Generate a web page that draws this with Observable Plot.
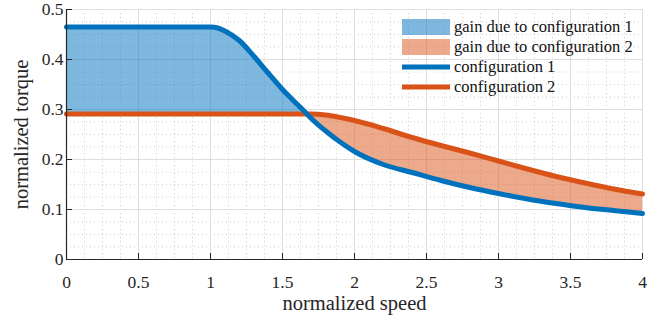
<!DOCTYPE html>
<html><head><meta charset="utf-8">
<script src="https://cdn.jsdelivr.net/npm/d3@7"></script>
<script src="https://cdn.jsdelivr.net/npm/@observablehq/plot@0.6"></script>
<style>
body{margin:0;background:#fff;}
#wrap{position:relative;width:663px;height:322px;font-family:"Liberation Serif","Times New Roman",serif;}
#chart svg, #chart svg text, #chart svg g{font-family:"Liberation Serif","Times New Roman",serif !important;}
#chart svg g[aria-label="x-axis tick label"], #chart svg g[aria-label="y-axis tick label"]{font-size:17.5px !important;font-variant:normal !important;}
#legend{position:absolute;left:402px;top:17px;font-size:16.5px;color:#111;}
.item{display:flex;align-items:center;height:20px;}
.sw{width:48px;margin-right:4px;}
</style></head><body>
<div id="wrap"><div id="chart"></div><div id="legend"></div></div>
<script>
const speed   = [0, 0.5, 1.0, 1.05, 1.1, 1.2, 1.3, 1.4, 1.5, 1.6, 1.67, 1.7, 1.8, 1.9, 2.0, 2.2, 2.4, 2.6, 2.8, 3.0, 3.2, 3.4, 3.6, 3.8, 4.0];
const config1 = [0.465, 0.465, 0.465, 0.463, 0.457, 0.438, 0.407, 0.373, 0.340, 0.311, 0.291, 0.282, 0.257, 0.235, 0.216, 0.190, 0.174, 0.158, 0.144, 0.132, 0.121, 0.112, 0.104, 0.098, 0.092];
const config2 = [0.291, 0.291, 0.291, 0.291, 0.291, 0.291, 0.291, 0.291, 0.291, 0.291, 0.291, 0.291, 0.289, 0.284, 0.278, 0.262, 0.244, 0.228, 0.213, 0.197, 0.181, 0.166, 0.153, 0.141, 0.131];
const xTicks = [0, 0.5, 1, 1.5, 2, 2.5, 3, 3.5, 4];
const yTicks = [0, 0.1, 0.2, 0.3, 0.4, 0.5];
const xMinor = d3.range(0, 4.0001, 0.125);
const yMinor = d3.range(0, 0.5001, 0.025);
const xLabel = "normalized speed";
const yLabel = "normalized torque";
const legendLabels = ["gain due to configuration 1", "gain due to configuration 2", "configuration 1", "configuration 2"];

const blue = "#0072BD", orange = "#D95319";
const data = speed.map((s, i) => ({s, c1: config1[i], c2: config2[i]}));
const curve = "monotone-x";
const ink = "#262626";

const chart = Plot.plot({
  width: 663, height: 322,
  marginLeft: 66, marginRight: 21, marginTop: 9, marginBottom: 63,
  style: {fontFamily: "'Liberation Serif', 'Times New Roman', serif", fontSize: "17.5px", color: ink, background: "#fff"},
  x: {domain: [0, 4]},
  y: {domain: [0, 0.5]},
  marks: [
    Plot.ruleX(xMinor, {stroke: "#c4c4c4", strokeDasharray: "1,3", strokeWidth: 0.8}),
    Plot.ruleY(yMinor, {stroke: "#c4c4c4", strokeDasharray: "1,3", strokeWidth: 0.8}),
    Plot.ruleX(xTicks, {stroke: "#dedede", strokeWidth: 1}),
    Plot.ruleY(yTicks, {stroke: "#dedede", strokeWidth: 1}),
    Plot.areaY(data, {x: "s", y1: "c2", y2: d => Math.max(d.c1, d.c2), fill: blue, fillOpacity: 0.5, curve}),
    Plot.areaY(data, {x: "s", y1: "c1", y2: d => Math.max(d.c1, d.c2), fill: orange, fillOpacity: 0.5, curve}),
    Plot.lineY(data, {x: "s", y: "c2", stroke: orange, strokeWidth: 5, curve}),
    Plot.lineY(data, {x: "s", y: "c1", stroke: blue, strokeWidth: 5, curve}),
    Plot.ruleY([0], {stroke: ink, strokeWidth: 1.2}),
    Plot.ruleX([0], {stroke: ink, strokeWidth: 1.2}),
    Plot.axisX(xTicks, {tickSize: -6, stroke: ink, text: null, label: null}),
    Plot.axisY(yTicks, {tickSize: -6, stroke: ink, text: null, label: null}),
    Plot.axisX(xTicks, {tickSize: 0, tickPadding: 15, dy: 1, fill: ink, fontSize: 17.5, label: null, tickFormat: d => String(d)}),
    Plot.axisY(yTicks, {tickSize: 0, tickPadding: 3, fill: ink, fontSize: 17.5, label: null, tickFormat: d => String(d)}),
    Plot.text([xLabel], {frameAnchor: "bottom", lineAnchor: "middle", textAnchor: "middle", dy: 44, fontSize: 20.5, fill: ink}),
    Plot.text([yLabel], {frameAnchor: "left", lineAnchor: "middle", textAnchor: "middle", dx: -45, rotate: -90, fontSize: 20.5, fill: ink})
  ]
});
document.getElementById("chart").appendChild(chart);

const leg = document.getElementById("legend");
const swatches = [
  `<svg class="sw" width="48" height="16"><rect width="48" height="16" fill="${blue}" fill-opacity="0.5"/></svg>`,
  `<svg class="sw" width="48" height="16"><rect width="48" height="16" fill="${orange}" fill-opacity="0.5"/></svg>`,
  `<svg class="sw" width="48" height="16"><rect y="5.5" width="48" height="5" fill="${blue}"/></svg>`,
  `<svg class="sw" width="48" height="16"><rect y="5.5" width="48" height="5" fill="${orange}"/></svg>`
];
legendLabels.forEach((t, i) => {
  const d = document.createElement("div");
  d.className = "item";
  d.innerHTML = swatches[i] + `<span>${t}</span>`;
  leg.appendChild(d);
});
</script>
</body></html>
